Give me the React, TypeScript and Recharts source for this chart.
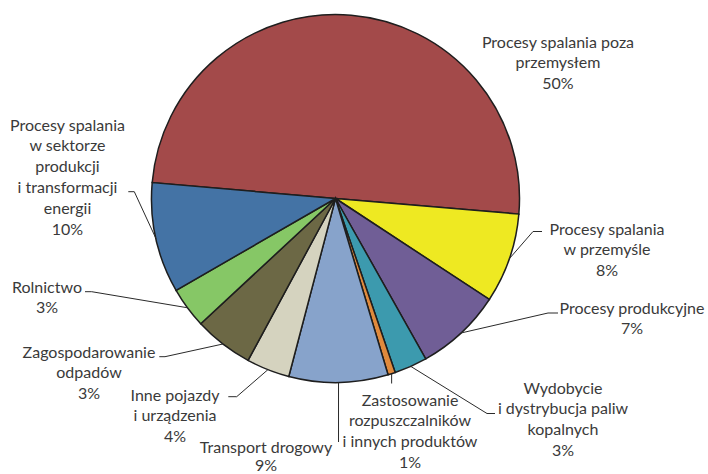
import React from 'react';
import { PieChart, Pie, Cell } from 'recharts';

const names = [
  'Procesy spalania poza przemysłem',
  'Procesy spalania w przemyśle',
  'Procesy produkcyjne',
  'Wydobycie i dystrybucja paliw kopalnych',
  'Zastosowanie rozpuszczalników i innych produktów',
  'Transport drogowy',
  'Inne pojazdy i urządzenia',
  'Zagospodarowanie odpadów',
  'Rolnictwo',
  'Procesy spalania w sektorze produkcji i transformacji energii',
];
const values = [50, 7.9, 7.6, 2.9, 0.65, 8.7, 3.8, 5.2, 3.6, 9.7];
const percentLabels = ['50%', '8%', '7%', '3%', '1%', '9%', '4%', '3%', '3%', '10%'];
const nameLines: string[][] = [
  ['Procesy spalania poza', 'przemysłem'],
  ['Procesy spalania', 'w przemyśle'],
  ['Procesy produkcyjne'],
  ['Wydobycie', 'i dystrybucja paliw', 'kopalnych'],
  ['Zastosowanie', 'rozpuszczalników', 'i innych produktów'],
  ['Transport drogowy'],
  ['Inne pojazdy', 'i urządzenia'],
  ['Zagospodarowanie', 'odpadów'],
  ['Rolnictwo'],
  ['Procesy spalania', 'w sektorze', 'produkcji', 'i transformacji', 'energii'],
];
const colors = [
  '#A34A4A', '#EEE922', '#705E96', '#3C9AAE', '#E08A3C',
  '#87A3CB', '#D5D3BF', '#6C6845', '#86C766', '#4473A5',
];

// label layout: text centre x, first line centre y, line gap, leader elbow and end
type Layout = { tx: number; ty: number; gap?: number; leader?: 'none' | 'v' | 'elbow'; ex?: number; ey?: number; fx?: number; fy?: number };
const layouts: Layout[] = [
  { tx: 558, ty: 42, leader: 'none' },
  { tx: 607, ty: 229, leader: 'elbow', ex: 533, ey: 231.5, fx: 542, fy: 231.5 },
  { tx: 632, ty: 308, leader: 'elbow', ex: 548, ey: 313, fx: 558, fy: 313 },
  { tx: 563, ty: 388, leader: 'elbow', ex: 487, ey: 413.5, fx: 495, fy: 413.5 },
  { tx: 410, ty: 400, leader: 'v', ey: 383.5 },
  { tx: 266, ty: 447, gap: 18.5, leader: 'v', ey: 442 },
  { tx: 175, ty: 395, leader: 'elbow', ex: 236.7, ey: 396.7, fx: 228.3, fy: 396.7 },
  { tx: 89, ty: 352, leader: 'elbow', ex: 165, ey: 356.7, fx: 159.3, fy: 356.7 },
  { tx: 47, ty: 287, leader: 'elbow', ex: 91.7, ey: 291.7, fx: 85, fy: 291.7 },
  { tx: 67.5, ty: 125, leader: 'elbow', ex: 134.3, ey: 191.7, fx: 128.3, fy: 191.7 },
];

const data = names.map((name, i) => ({ name, value: values[i] }));

const RADIAN = Math.PI / 180;
const LINE_H = 20.8;
const TEXT_COLOR = '#3a3a3a';

const renderLabel = (props: any) => {
  const { cx, cy, midAngle, outerRadius, index } = props;
  const L = layouts[index];
  const sx = cx + outerRadius * Math.cos(-midAngle * RADIAN);
  const sy = cy + outerRadius * Math.sin(-midAngle * RADIAN);
  const lines = [...nameLines[index], percentLabels[index]];
  const gap = L.gap ?? LINE_H;
  let leader: React.ReactNode = null;
  if (L.leader === 'elbow') {
    leader = (
      <polyline
        points={`${sx},${sy} ${L.ex},${L.ey} ${L.fx},${L.fy}`}
        fill="none"
        stroke="#2a2a2a"
        strokeWidth={1}
      />
    );
  } else if (L.leader === 'v') {
    leader = <line x1={sx} y1={sy} x2={sx} y2={L.ey} stroke="#2a2a2a" strokeWidth={1} />;
  }
  return (
    <g key={`lbl-${index}`}>
      {leader}
      {lines.map((t, i) => (
        <text
          key={i}
          x={L.tx}
          y={L.ty + i * gap + 5.5}
          textAnchor="middle"
          fill={TEXT_COLOR}
          fontFamily="Lato, sans-serif"
          fontSize={16}
        >
          {t}
        </text>
      ))}
    </g>
  );
};

export default function App() {
  const start = 175.05;
  return (
    <div style={{ position: 'absolute', left: 0, top: 0, width: 708, height: 474, background: '#fff' }}>
      <PieChart width={708} height={474} margin={{ top: 0, right: 0, bottom: 0, left: 0 }}>
        <Pie
          data={data}
          dataKey="value"
          nameKey="name"
          cx={335.5}
          cy={198.5}
          outerRadius={184}
          startAngle={start}
          endAngle={start - 360}
          stroke="#1e1e1e"
          strokeWidth={1.5}
          label={renderLabel}
          labelLine={false}
          isAnimationActive={false}
        >
          {data.map((d, i) => (
            <Cell key={d.name} fill={colors[i]} />
          ))}
        </Pie>
      </PieChart>
    </div>
  );
}
